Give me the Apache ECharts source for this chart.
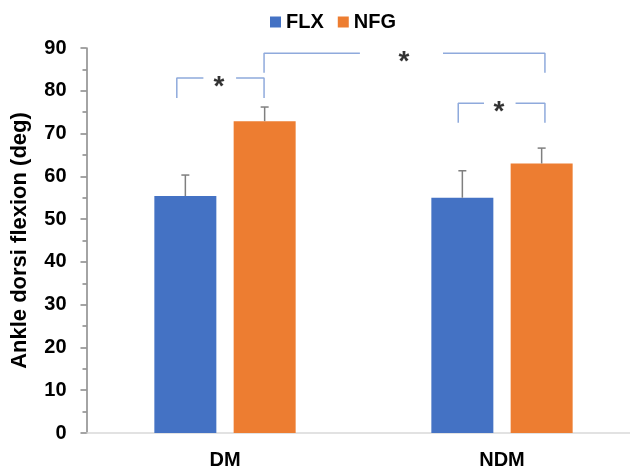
<!DOCTYPE html>
<html><head><meta charset="utf-8">
<script src="https://cdn.jsdelivr.net/npm/echarts@6/dist/echarts.min.js"></script>
<style>html,body{margin:0;padding:0;background:#fff}#c{width:630px;height:470px}</style>
</head><body><div id="c"></div>
<script>
const categories = ['DM', 'NDM'];
const seriesNames = ['FLX', 'NFG'];
const flxMean = [55.4, 55.0];
const nfgMean = [72.9, 63.0];
const flxErr = [4.9, 6.3];
const nfgErr = [3.3, 3.6];
// significance brackets: polylines in (group position 0..2, value) space
const bracketLines = [
  [[0.326, 78.3], [0.326, 83.0], [0.422, 83.0]],
  [[0.540, 83.0], [0.641, 83.0], [0.641, 78.3]],
  [[0.641, 84.2], [0.641, 88.8], [0.987, 88.8]],
  [[1.287, 88.8], [1.655, 88.8], [1.655, 84.2]],
  [[1.342, 72.5], [1.342, 77.1], [1.435, 77.1]],
  [[1.549, 77.1], [1.655, 77.1], [1.655, 72.5]]
];
const stars = [[0.478, 81.8], [1.146, 87.7], [1.489, 76.0]];

const FONT = 'Liberation Sans';
const chart = echarts.init(document.getElementById('c'), null, {renderer: 'canvas'});

const BAR_W = 62, BAR_GAP = 17.3;
function errSeries(name, means, errs, sign) {
  return {
    type: 'custom', name: name + ' err', z: 5, silent: true,
    data: means.map((m, i) => [i, m, m + errs[i]]),
    renderItem: function (params, api) {
      const i = api.value(0);
      const p0 = api.coord([i, api.value(1)]);
      const p1 = api.coord([i, api.value(2)]);
      const x = p0[0] + sign * (BAR_W + BAR_GAP) / 2;
      const st = {stroke: '#7f7f7f', lineWidth: 1.5};
      return {type: 'group', children: [
        {type: 'line', shape: {x1: x, y1: p0[1], x2: x, y2: p1[1]}, style: st},
        {type: 'line', shape: {x1: x - 4, y1: p1[1], x2: x + 4, y2: p1[1]}, style: st}
      ]};
    }
  };
}

const series = [
  {name: 'FLX', type: 'bar', data: flxMean, barWidth: BAR_W, barGap: (BAR_GAP / BAR_W * 100) + '%',
   itemStyle: {color: '#4472c4'}},
  {name: 'NFG', type: 'bar', data: nfgMean, barWidth: BAR_W,
   itemStyle: {color: '#ed7d31'}},
  errSeries('FLX', flxMean, flxErr, -1),
  errSeries('NFG', nfgMean, nfgErr, 1)
];
bracketLines.forEach((pts, k) => series.push({
  type: 'line', name: 'br' + k, xAxisIndex: 1, data: pts, symbol: 'none', silent: true,
  lineStyle: {color: '#8faadc', width: 1.5}, z: 6, animation: false
}));
series.push({
  type: 'scatter', name: 'stars', xAxisIndex: 1, data: stars, symbolSize: 0, silent: true,
  label: {show: true, position: 'inside', formatter: '*', color: '#000', fontFamily: FONT,
          fontWeight: 'bold', fontSize: 28, offset: [0, 4.5]}
});

chart.setOption({
  animation: false,
  backgroundColor: '#fff',
  legend: {
    data: seriesNames, top: 7, left: 265, icon: 'rect', itemWidth: 11, itemHeight: 11, itemGap: 14,
    textStyle: {fontFamily: FONT, fontWeight: 'bold', fontSize: 20, color: '#000', padding: [0, 0, 0, 0]}
  },
  grid: {left: 86.5, width: 554, top: 48, bottom: 37, containLabel: false, outerBoundsMode: 'none'},
  xAxis: [
    {type: 'category', data: categories,
     axisLine: {lineStyle: {color: '#d9d9d9', width: 1.5}}, axisTick: {show: false},
     axisLabel: {fontFamily: FONT, fontWeight: 'bold', fontSize: 20, color: '#000', margin: 17}},
    {type: 'value', min: 0, max: 2, show: false}
  ],
  yAxis: {
    type: 'value', min: 0, max: 90, interval: 10,
    name: 'Ankle dorsi flexion (deg)', nameLocation: 'middle', nameGap: 56, nameRotate: 90,
    nameTextStyle: {fontFamily: FONT, fontWeight: 'bold', fontSize: 22, color: '#000'},
    axisLine: {show: true, lineStyle: {color: '#868686', width: 1.5}},
    axisTick: {show: true, length: 6, lineStyle: {color: '#868686', width: 1.5}},
    minorTick: {show: true, splitNumber: 2, length: 4, lineStyle: {color: '#868686', width: 1.5}},
    splitLine: {show: false},
    axisLabel: {fontFamily: FONT, fontWeight: 'bold', fontSize: 20, color: '#000', margin: 20}
  },
  series: series
});
</script></body></html>
